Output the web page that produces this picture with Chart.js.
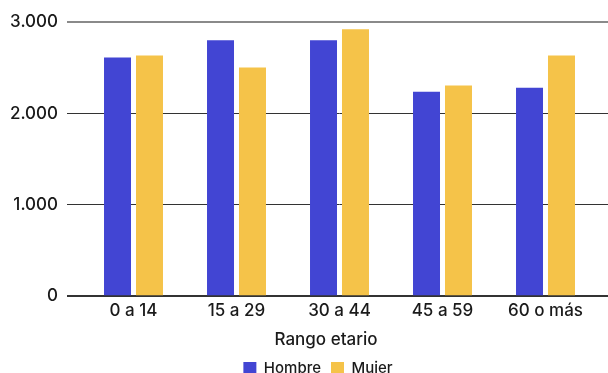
<!DOCTYPE html>
<html><head><meta charset="utf-8">
<script src="https://cdn.jsdelivr.net/npm/chart.js@4/dist/chart.umd.min.js"></script>
<style>html,body{margin:0;padding:0;background:#fff}canvas{display:block}</style>
</head><body>
<canvas id="c" width="608" height="373"></canvas>
<script>
const categories = ['0 a 14', '15 a 29', '30 a 44', '45 a 59', '60 o más'];
const hombre = [2612, 2800, 2800, 2238, 2282];
const mujer = [2634, 2502, 2920, 2304, 2634];
const yTicks = [0, 1000, 2000, 3000];

const FONT = 'Inter';
const WEIGHT = 500;
const TEXT = '#1a1a1a';

const gridColor = ctx => (ctx.tick && ctx.tick.value === 3000) ? '#8a8a8a' : '#333333';
const gridWidth = ctx => (ctx.tick && (ctx.tick.value === 0 || ctx.tick.value === 3000)) ? 2 : 1;
const setTicks = axis => { axis.ticks = yTicks.map(v => ({ value: v })); };

// horizontal nudges for the bottom title and legend boxes
const boxShift = {
  id: 'boxShift',
  afterLayout(chart, args, opts) {
    const move = (box, dx) => { if (box) { box.left += dx; box.right += dx; } };
    move(chart.titleBlock, opts.title);
    move(chart.legend, opts.legend);
  }
};

new Chart(document.getElementById('c'), {
  type: 'bar',
  data: {
    labels: categories,
    datasets: [
      { label: 'Hombre', data: hombre, backgroundColor: '#4245d3', barPercentage: 0.844, categoryPercentage: 0.621 },
      { label: 'Mujer', data: mujer, backgroundColor: '#f5c349', barPercentage: 0.844, categoryPercentage: 0.621 }
    ]
  },
  plugins: [boxShift],
  options: {
    responsive: false,
    animation: false,
    layout: { padding: { top: 22, bottom: -13, left: 0, right: 0 } },
    plugins: {
      tooltip: { enabled: false },
      boxShift: { title: 22, legend: 14 },
      title: {
        display: true,
        position: 'bottom',
        weight: 500,
        text: 'Rango etario',
        color: TEXT,
        font: { family: FONT, size: 17, weight: WEIGHT },
        padding: { top: 5, bottom: 1 }
      },
      legend: {
        position: 'bottom',
        labels: { boxWidth: 13, boxHeight: 13, padding: 10, color: TEXT, font: { family: FONT, size: 15, weight: WEIGHT } }
      }
    },
    scales: {
      x: {
        grid: { display: false, drawTicks: false },
        border: { display: false },
        ticks: { padding: 4, color: TEXT, font: { family: FONT, size: 17, weight: WEIGHT } }
      },
      y: {
        min: 0, max: 3000,
        afterBuildTicks: setTicks,
        afterFit: s => { s.width = 82; },
        grid: { color: gridColor, lineWidth: gridWidth, tickLength: 15 },
        border: { display: false },
        ticks: { padding: 9, color: TEXT, font: { family: FONT, size: 17, weight: WEIGHT }, callback: v => v.toLocaleString('de-DE') }
      },
      y2: {
        position: 'right',
        min: 0, max: 3000,
        afterBuildTicks: setTicks,
        afterFit: s => { s.width = 11; },
        grid: { drawOnChartArea: false, color: gridColor, lineWidth: gridWidth, tickLength: 11 },
        border: { display: false },
        ticks: { display: false }
      }
    }
  }
});
</script>
</body></html>
